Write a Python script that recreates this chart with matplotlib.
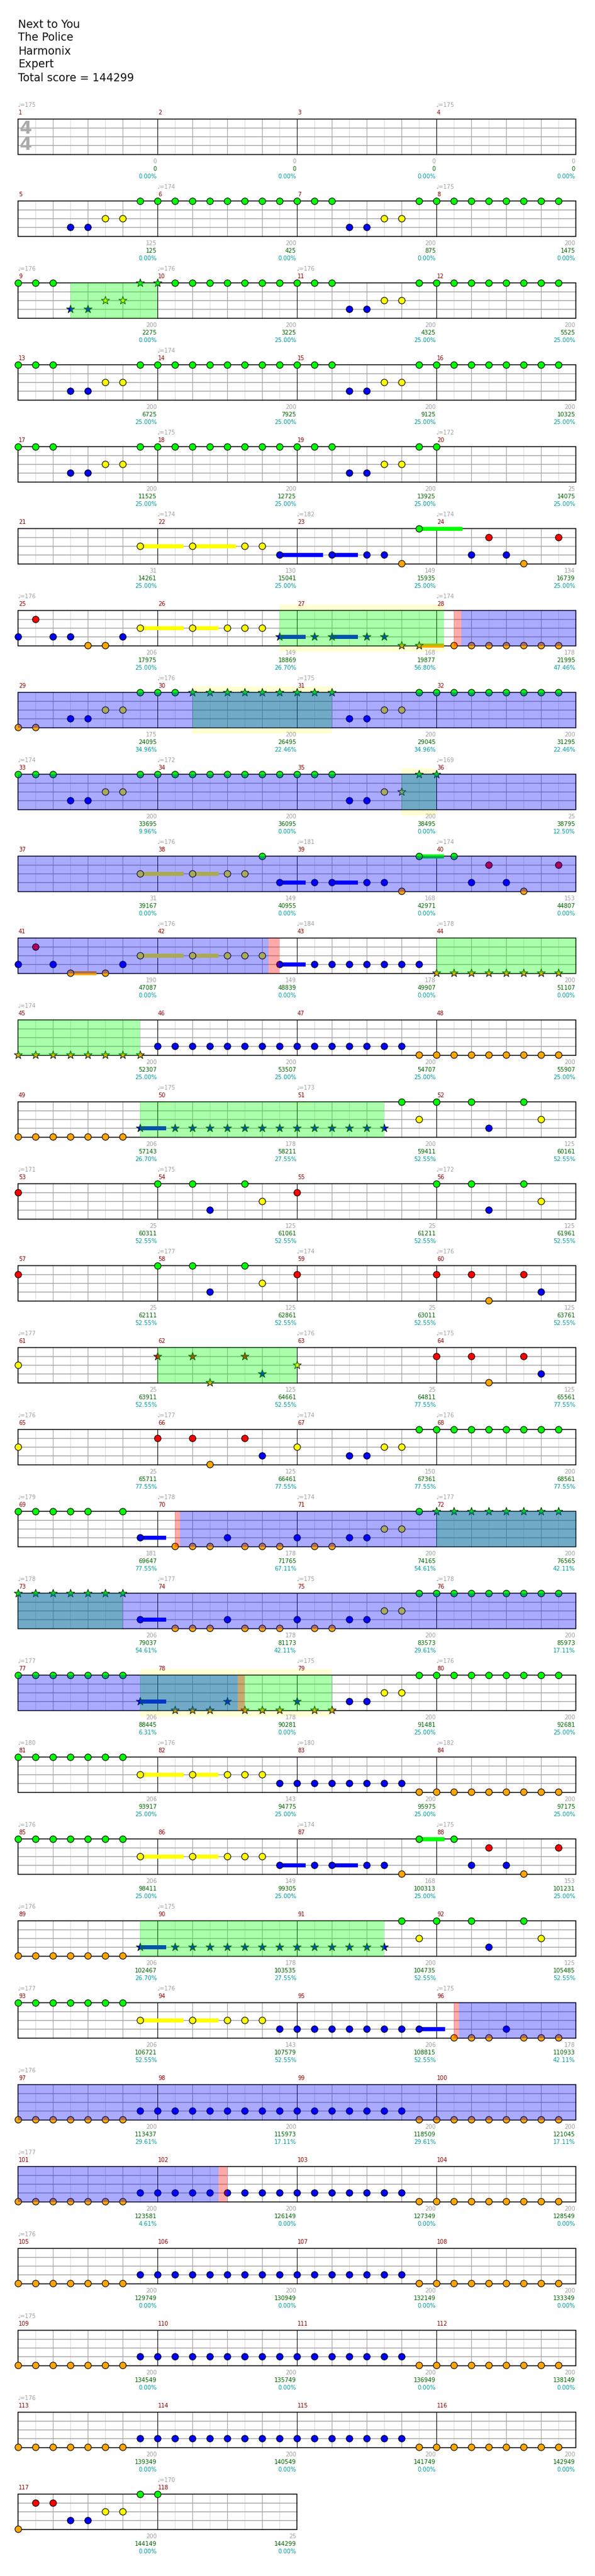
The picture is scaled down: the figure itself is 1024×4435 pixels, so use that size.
import matplotlib
matplotlib.use("Agg")
import matplotlib.pyplot as plt
from matplotlib.patches import Rectangle

# ------------------------------------------------------------------ data
title_lines = ["Next to You", "The Police", "Harmonix", "Expert", "Total score = 144299"]

RIFF_A = "G0 G1 G2 B3 B4 Y5 Y6 G7"
ALL_G = "G0 G1 G2 G3 G4 G5 G6 G7"
ALL_B = "B0 B1 B2 B3 B4 B5 B6 B7"
ALL_O = "O0 O1 O2 O3 O4 O5 O6 O7"
O_TO_B = "O0 O1 O2 O3 O4 O5 O6 B7"
B_TO_O = "B0 B1 B2 B3 B4 B5 B6 O7"

# notes per measure: [*]<lane><eighth>[~sustain length in eighths]
measure_notes = {
    5: "B3 B4 Y5 Y6 G7", 6: ALL_G, 7: RIFF_A, 8: ALL_G,
    9: "G0 G1 G2 *B3 *B4 *Y5 *Y6 *G7", 10: "*G0 G1 G2 G3 G4 G5 G6 G7", 11: RIFF_A, 12: ALL_G,
    13: RIFF_A, 14: ALL_G, 15: RIFF_A, 16: ALL_G,
    17: RIFF_A, 18: ALL_G, 19: RIFF_A, 20: "G0",
    21: "Y7~2.5", 22: "Y2~2.5 Y5 Y6 B7~2.5", 23: "B2~1.5 B4 B5 O6 G7~2.5", 24: "B2 R3 B4 O5 R7",
    25: "B0 R1 B2 B3 O4 O5 B6 Y7~2.5", 26: "Y2~1.5 Y4 Y5 Y6 *B7~1.5",
    27: "*B1 *B2~1.5 *B4 *B5 *O6 *O7~1.45", 28: "O1 O2 O3 O4 O5 O6 O7",
    29: "O0 O1 B3 B4 Y5 Y6 G7", 30: "G0 G1 *G2 *G3 *G4 *G5 *G6 *G7", 31: "*G0 *G1 *G2 B3 B4 Y5 Y6 G7", 32: ALL_G,
    33: RIFF_A, 34: ALL_G, 35: "G0 G1 G2 B3 B4 Y5 *Y6 *G7", 36: "*G0",
    37: "Y7~2.5", 38: "Y2~1.5 Y4 Y5 G6 B7~1.5", 39: "B1 B2~1.5 B4 B5 O6 G7~1.45", 40: "G1 B2 R3 B4 O5 R7",
    41: "B0 R1 B2 O3~1.5 O5 B6 Y7~2.5", 42: "Y2~1.5 Y4 Y5 Y6 B7~1.5", 43: "B1 B2 B3 B4 B5 B6 B7",
    44: "*O0 *O1 *O2 *O3 *O4 *O5 *O6 *O7",
    45: "*O0 *O1 *O2 *O3 *O4 *O5 *O6 *O7", 46: ALL_B, 47: B_TO_O, 48: ALL_O,
    49: "O0 O1 O2 O3 O4 O5 O6 *B7~1.5", 50: "*B1 *B2 *B3 *B4 *B5 *B6 *B7", 51: "*B0 *B1 *B2 *B3 *B4 *B5 G6 Y7",
    52: "G0 G2 B3 G5 Y6",
    53: "R0", 54: "G0 G2 B3 G5 Y6", 55: "R0", 56: "G0 G2 B3 G5 Y6",
    57: "R0", 58: "G0 G2 B3 G5 Y6", 59: "R0", 60: "R0 R2 O3 R5 B6",
    61: "Y0", 62: "*R0 *R2 *O3 *R5 *B6", 63: "*Y0", 64: "R0 R2 O3 R5 B6",
    65: "Y0", 66: "R0 R2 O3 R5 B6", 67: "Y0 B3 B4 Y5 Y6 G7", 68: ALL_G,
    69: "G0 G1 G2 G3 G4 G6 B7~1.5", 70: "O1 O2 O3 B4 O5 O6 O7", 71: "B0 O1 O2 B3 B4 Y5 Y6 G7",
    72: "*G0 *G1 *G2 *G3 *G4 *G5 *G6 *G7",
    73: "*G0 *G1 *G2 *G3 *G4 *G5 *G6 B7~1.5", 74: "O1 O2 O3 B4 O5 O6 O7", 75: "B0 O1 O2 B3 B4 Y5 Y6 G7",
    76: ALL_G,
    77: "G0 G1 G2 G3 G4 G5 G6 *B7~1.5", 78: "*O1 *O2 *O3 *B4 *O5 *O6 *O7", 79: "*B0 *O1 *O2 B3 B4 Y5 Y6 G7",
    80: ALL_G,
    81: "G0 G1 G2 G3 G4 G5 G6 Y7~2.5", 82: "Y2~1.5 Y4 Y5 Y6 B7", 83: B_TO_O, 84: ALL_O,
    85: "G0 G1 G2 G3 G4 G5 G6 Y7~2.5", 86: "Y2~1.5 Y4 Y5 Y6 B7~1.5", 87: "B1 B2~1.5 B4 B5 O6 G7~1.45",
    88: "G1 B2 R3 B4 O5 R7",
    89: "O0 O1 O2 O3 O4 O5 O6 *B7~1.5", 90: "*B1 *B2 *B3 *B4 *B5 *B6 *B7", 91: "*B0 *B1 *B2 *B3 *B4 *B5 G6 Y7",
    92: "G0 G2 B3 G5 Y6",
    93: "G0 G1 G2 G3 G4 G5 G6 Y7~2.5", 94: "Y2~1.5 Y4 Y5 Y6 B7", 95: "B0 B1 B2 B3 B4 B5 B6 B7~1.5",
    96: "O1 O2 O3 B4 O5 O6 O7",
    97: O_TO_B, 98: ALL_B, 99: B_TO_O, 100: ALL_O,
    101: O_TO_B, 102: ALL_B, 103: B_TO_O, 104: ALL_O,
    105: O_TO_B, 106: ALL_B, 107: B_TO_O, 108: ALL_O,
    109: O_TO_B, 110: ALL_B, 111: B_TO_O, 112: ALL_O,
    113: O_TO_B, 114: ALL_B, 115: B_TO_O, 116: ALL_O,
    117: "O0 R1 R2 B3 B4 Y5 Y6 G7", 118: "G0",
}

tempo_measure = [1, 4, 6, 8, 9, 10, 11, 14, 18, 20, 22, 23, 24, 25, 28, 30, 31, 33, 34, 36, 38, 39, 40,
                 42, 43, 44, 45, 50, 51, 53, 54, 56, 58, 59, 60, 61, 63, 64, 65, 66, 67, 68, 69, 70,
                 71, 72, 73, 74, 75, 76, 77, 79, 80, 81, 82, 83, 84,
                 85, 87, 88, 89, 90, 93, 94, 96, 97, 101, 105, 109, 113, 118]
tempo_bpm = [175, 175, 174, 175, 176, 176, 176, 174, 175, 172, 174, 182, 174, 176, 174, 176, 175, 174, 172,
             169, 176, 181, 174, 176, 184, 178, 174, 175, 173, 171, 175, 172, 177, 174, 176, 177, 176,
             175, 176, 177, 174, 176, 179, 178, 174, 177, 178, 177, 175, 178, 177, 175, 176, 180, 176,
             180, 182,
             176, 174, 175, 176, 175, 177, 176, 175, 176, 177, 176, 175, 176, 170]

base_scores = [0, 0, 0, 0, 125, 200, 200, 200, 200, 200, 200, 200,
               200, 200, 200, 200, 200, 200, 200, 25, 31, 130, 149, 134,
               206, 149, 168, 178, 175, 200, 200, 200, 200, 200, 200, 25,
               31, 149, 168, 153, 190, 149, 178, 200, 200, 200, 200, 200,
               206, 178, 200, 125, 25, 125, 25, 125, 25, 125, 25, 125,
               25, 125, 25, 125, 25, 125, 150, 200, 181, 178, 200, 200,
               206, 178, 200, 200, 206, 178, 200, 200, 206, 143, 200, 200,
               206, 149, 168, 153, 206, 178, 200, 125, 206, 143, 206, 178,
               200, 200, 200, 200, 200, 200, 200, 200, 200, 200, 200, 200,
               200, 200, 200, 200, 200, 200, 200, 200, 200, 25]
total_scores = [0, 0, 0, 0, 125, 425, 875, 1475, 2275, 3225, 4325, 5525,
                6725, 7925, 9125, 10325, 11525, 12725, 13925, 14075, 14261, 15041, 15935, 16739,
                17975, 18869, 19877, 21995, 24095, 26495, 29045, 31295, 33695, 36095, 38495, 38795,
                39167, 40955, 42971, 44807, 47087, 48839, 49907, 51107, 52307, 53507, 54707, 55907,
                57143, 58211, 59411, 60161, 60311, 61061, 61211, 61961, 62111, 62861, 63011, 63761,
                63911, 64661, 64811, 65561, 65711, 66461, 67361, 68561, 69647, 71765, 74165, 76565,
                79037, 81173, 83573, 85973, 88445, 90281, 91481, 92681, 93917, 94775, 95975, 97175,
                98411, 99305, 100313, 101231, 102467, 103535, 104735, 105485, 106721, 107579, 108815, 110933,
                113437, 115973, 118509, 121045, 123581, 126149, 127349, 128549, 129749, 130949, 132149, 133349,
                134549, 135749, 136949, 138149, 139349, 140549, 141749, 142949, 144149, 144299]
sp_meter = [0, 0, 0, 0, 0, 0, 0, 0, 0, 25, 25, 25,
            25, 25, 25, 25, 25, 25, 25, 25, 25, 25, 25, 25,
            25, 26.70, 56.80, 47.46, 34.96, 22.46, 34.96, 22.46, 9.96, 0, 0, 12.50,
            0, 0, 0, 0, 0, 0, 0, 0, 25, 25, 25, 25,
            26.70, 27.55, 52.55, 52.55, 52.55, 52.55, 52.55, 52.55, 52.55, 52.55, 52.55, 52.55,
            52.55, 52.55, 77.55, 77.55, 77.55, 77.55, 77.55, 77.55, 77.55, 67.11, 54.61, 42.11,
            54.61, 42.11, 29.61, 17.11, 6.31, 0, 25, 25, 25, 25, 25, 25,
            25, 25, 25, 25, 26.70, 27.55, 52.55, 52.55, 52.55, 52.55, 52.55, 42.11,
            29.61, 17.11, 29.61, 17.11, 4.61, 0, 0, 0, 0, 0, 0, 0,
            0, 0, 0, 0, 0, 0, 0, 0, 0, 0]

# highlighted zones, in eighth notes counted from the start of the song
green_zones = [(67, 72), (207, 216.45), (234, 242), (278, 280), (344, 359), (391, 405),
               (488, 496), (568, 582), (615, 626), (711, 725)]
blue_zones = [(217.45, 334.35), (553.3, 620.6), (761.3, 811.5)]
pink_zones = [(217, 217.45), (334.35, 335), (553, 553.3), (620.6, 621), (761, 761.3), (811.5, 812)]
yellow_bands = [(207, 216.45), (234, 242), (278, 280), (615, 626)]

# ------------------------------------------------------------------ layout
LEFT, EW, ROW0, ROWH, STAFF_H, LANE_SP = 31, 30, 205, 141, 61, 15
MEAS_PER_ROW = 4
N_MEAS = 118
LANE_IDX = {'G': 0, 'R': 1, 'Y': 2, 'B': 3, 'O': 4}
LANE_COL = ['#00ff00', '#ff0000', '#ffff00', '#0000ff', '#ffa500']
PX = 0.72  # points per pixel

fig = plt.figure(figsize=(10.24, 44.35), dpi=100)
ax = fig.add_axes([0, 0, 1, 1])
ax.set_xlim(0, 1024)
ax.set_ylim(4435, 0)
ax.axis('off')

FONT = 'DejaVu Sans'

for i, line in enumerate(title_lines):
    ax.text(LEFT, 42 + 23 * i, line, fontsize=13.5, family=FONT, va='center', ha='left', color='#111111')

n_rows = (N_MEAS + MEAS_PER_ROW - 1) // MEAS_PER_ROW


def row_top(r):
    return ROW0 + r * ROWH


def draw_zone_list(zones, fc, z, ext=0):
    for (s, e) in zones:
        for r in range(n_rows):
            a, b = max(s, r * 32), min(e, r * 32 + 32)
            if b <= a:
                continue
            x0 = LEFT + (a - r * 32) * EW
            x1 = LEFT + (b - r * 32) * EW
            t = row_top(r)
            ax.add_patch(Rectangle((x0, t - ext), x1 - x0, STAFF_H + 2 * ext, facecolor=fc,
                                   edgecolor='none', zorder=z))


# yellow bands behind everything
draw_zone_list(yellow_bands, '#ffffd2', 0, ext=10)

for r in range(n_rows):
    t = row_top(r)
    nm = min(MEAS_PER_ROW, N_MEAS - r * MEAS_PER_ROW)
    width = nm * 8 * EW
    ax.add_patch(Rectangle((LEFT, t), width, STAFF_H, facecolor='white', edgecolor='none', zorder=1))
    for k in range(1, nm * 8):
        x = LEFT + k * EW
        if k % 8 == 0:
            ax.plot([x, x], [t, t + STAFF_H], color='black', lw=1.0 * PX, zorder=3)
        elif k % 2 == 0:
            ax.plot([x, x], [t, t + STAFF_H], color='#a0a0a0', lw=1.0 * PX, zorder=2)
        else:
            ax.plot([x, x], [t, t + STAFF_H], color='#dcdcdc', lw=1.0 * PX, zorder=2)
    for ln in range(1, 4):
        y = t + ln * LANE_SP
        ax.plot([LEFT, LEFT + width], [y, y], color='#a0a0a0', lw=1.4 * PX, zorder=2)
    ax.add_patch(Rectangle((LEFT, t), width, STAFF_H, facecolor='none', edgecolor='black',
                           lw=1.5 * PX, zorder=3))
    # measure texts
    for j in range(nm):
        m = r * MEAS_PER_ROW + j + 1
        mx = LEFT + j * 8 * EW
        ax.text(mx + 1, t - 11, str(m), fontsize=7, family=FONT, color='#8b0000', va='center', ha='left')
        ex = mx + 8 * EW - 1
        ax.text(ex, t + 73, str(base_scores[m - 1]), fontsize=7.2, family=FONT, color='#a0a0a0',
                va='center', ha='right')
        ax.text(ex, t + 86, str(total_scores[m - 1]), fontsize=7.2, family=FONT, color='#006400',
                va='center', ha='right')
        ax.text(ex, t + 99, f"{sp_meter[m - 1]:.2f}%", fontsize=7.2, family=FONT, color='#009c9c',
                va='center', ha='right')

# time signature
ax.text(44, ROW0 + 16, '4', fontsize=22, family=FONT, weight='bold', color='#aaaaaa', ha='center', va='center', zorder=4)
ax.text(44, ROW0 + 45, '4', fontsize=22, family=FONT, weight='bold', color='#aaaaaa', ha='center', va='center', zorder=4)

# tempo marks
for m, bpm in zip(tempo_measure, tempo_bpm):
    r = (m - 1) // MEAS_PER_ROW
    mx = LEFT + ((m - 1) % MEAS_PER_ROW) * 8 * EW
    ax.text(mx - 1, row_top(r) - 24, "\u2669=" + str(bpm), fontsize=7, family=FONT, color='#a0a0a0',
            va='center', ha='left')

# notes and sustains
pts = {}
for m, spec in measure_notes.items():
    for tok in spec.split():
        star = tok.startswith('*')
        tok = tok.lstrip('*')
        lane = LANE_IDX[tok[0]]
        if '~' in tok:
            p, sl = tok[1:].split('~')
            p, sl = float(p), float(sl)
        else:
            p, sl = float(tok[1:]), 0.0
        g = (m - 1) * 8 + p
        r = int(g // 32)
        xe = LEFT + (g - r * 32) * EW
        y = row_top(r) + lane * LANE_SP
        if sl > 0:
            s, e = g, g + sl
            for rr in range(r, n_rows):
                a, b = max(s, rr * 32), min(e, rr * 32 + 32)
                if b <= a:
                    break
                x0 = LEFT + (a - rr * 32) * EW
                x1 = LEFT + (b - rr * 32) * EW
                yy = row_top(rr) + lane * LANE_SP
                ax.add_patch(Rectangle((x0, yy - 3.5), x1 - x0, 7, facecolor=LANE_COL[lane],
                                       edgecolor='none', zorder=4))
        pts.setdefault((lane, star), []).append((xe, y))

for (lane, star), xy in pts.items():
    xs = [a for a, b in xy]
    ys = [b for a, b in xy]
    if star:
        ax.scatter(xs, ys, s=110, marker='*', c=LANE_COL[lane], edgecolors='#0a2a0a', linewidths=0.8,
                   zorder=5)
    else:
        ax.scatter(xs, ys, s=66, marker='o', c=LANE_COL[lane], edgecolors='black', linewidths=0.8,
                   zorder=5)

# translucent overlays on the staff
draw_zone_list(green_zones, (0, 1, 0, 1 / 3), 6)
draw_zone_list(pink_zones, (1, 0, 0, 1 / 3), 6)
draw_zone_list(blue_zones, (0, 0, 1, 1 / 3), 6)

fig.savefig('out.png', dpi=100)
